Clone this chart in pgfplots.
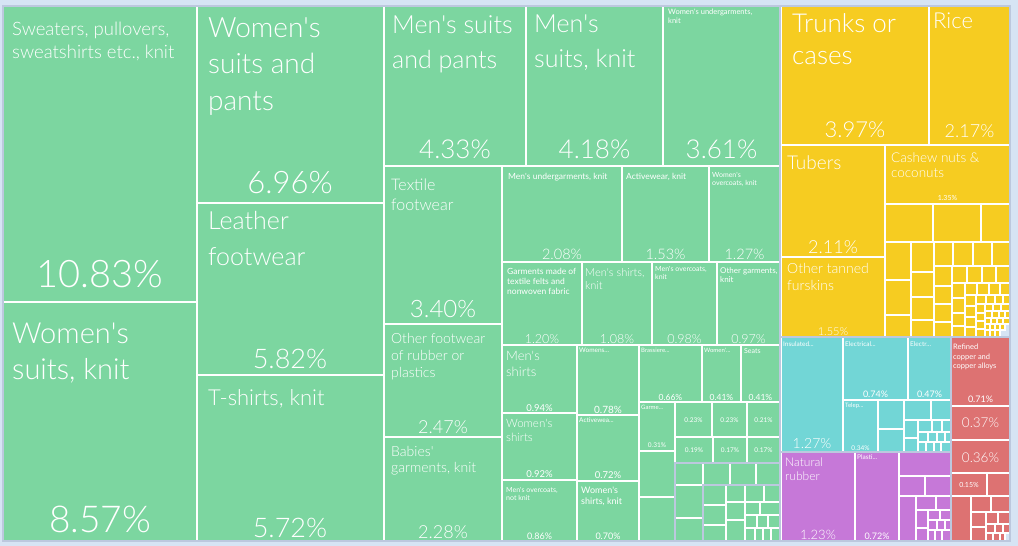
\documentclass[border=0pt]{standalone}
\usepackage{fontspec}
\setmainfont{Lato}[UprightFont={* Light}]
\newfontfamily\lreg{Lato}
\usepackage{pgfplots}
\pgfplotsset{compat=1.18}

\definecolor{bgc}{RGB}{214,228,244}
\definecolor{grn}{RGB}{124,214,160}
\definecolor{yel}{RGB}{246,204,33}
\definecolor{cya}{RGB}{114,214,214}
\definecolor{pur}{RGB}{198,120,216}
\definecolor{red}{RGB}{221,114,114}
\definecolor{edge}{RGB}{188,200,222}

% one treemap tile: x0 y0 x1 y1 colour (pixel units, y downwards)
\newcommand\R[5]{\addplot[fill=#5, draw=white, line width=1.1pt] coordinates {(#1,#2) (#3,#2) (#3,#4) (#1,#4)} -- cycle;}
% group outline
\newcommand\G[4]{\addplot[draw=edge, line width=1.3pt] coordinates {(#1,#2) (#3,#2) (#3,#4) (#1,#4)} -- cycle;}
% tile name: x y size leading text
\newcommand\Lb[5]{\node[anchor=north west, inner sep=0pt, align=left, text=white, font=\fontsize{#3}{#4}\selectfont] at (axis cs:#1,#2) {#5};}
% share: centre-x baseline-y size text
\newcommand\Pc[4]{\node[anchor=base, inner sep=0pt, text=white, font=\fontsize{#3}{#3}\selectfont] at (axis cs:#1,#2) {#4};}
% the same in the regular weight, for the small tiles
\newcommand\Ls[5]{\node[anchor=north west, inner sep=0pt, align=left, text=white, font=\lreg\fontsize{#3}{#4}\selectfont] at (axis cs:#1,#2) {#5};}
\newcommand\Ps[4]{\node[anchor=base, inner sep=0pt, text=white, font=\lreg\fontsize{#3}{#3}\selectfont] at (axis cs:#1,#2) {#4};}
\newcommand\q{\textquotesingle}

\begin{document}
\begin{tikzpicture}
\begin{axis}[scale only axis, width=1018pt, height=546pt,
  xmin=0, xmax=1018, ymin=0, ymax=546, y dir=reverse,
  hide axis, clip=false]

\addplot[fill=bgc, draw=none] coordinates {(0,0) (1018,0) (1018,546) (0,546)} -- cycle;

% ---- textiles and footwear (green)
\R{3}{6}{197}{302}{grn}
\R{3}{302}{197}{541}{grn}
\R{197}{6}{384}{203}{grn}
\R{197}{203}{384}{375}{grn}
\R{197}{375}{384}{541}{grn}
\R{384}{6}{526}{166}{grn}
\R{526}{6}{663}{166}{grn}
\R{663}{6}{780}{166}{grn}
\R{384}{166}{502}{324}{grn}
\R{384}{324}{502}{437}{grn}
\R{384}{437}{502}{541}{grn}
\R{502}{166}{622}{262}{grn}
\R{622}{166}{709}{262}{grn}
\R{709}{166}{780}{262}{grn}
\R{502}{262}{582}{345}{grn}
\R{582}{262}{652}{345}{grn}
\R{652}{262}{717}{345}{grn}
\R{717}{262}{780}{345}{grn}
\R{502}{345}{577}{413}{grn}
\R{502}{413}{577}{480}{grn}
\R{502}{480}{577}{541}{grn}
\R{577}{345}{639}{415}{grn}
\R{577}{415}{639}{481}{grn}
\R{577}{481}{639}{541}{grn}
\R{639}{345}{702}{402}{grn}
\R{702}{345}{741}{402}{grn}
\R{741}{345}{780}{402}{grn}
\R{639}{402}{675}{451}{grn}
\R{675}{402}{712}{437}{grn}
\R{712}{402}{747}{437}{grn}
\R{747}{402}{780}{437}{grn}
\R{675}{437}{713}{463}{grn}
\R{713}{437}{747}{463}{grn}
\R{747}{437}{780}{463}{grn}
\R{639}{451}{675}{497}{grn}
\R{639}{497}{675}{541}{grn}
\R{675}{463}{703}{485}{grn}
\R{703}{463}{730}{485}{grn}
\R{730}{463}{756}{485}{grn}
\R{756}{463}{780}{485}{grn}
\R{675}{485}{703}{518}{grn}
\R{675}{518}{703}{541}{grn}
\R{703}{485}{726}{505}{grn}
\R{703}{505}{726}{525}{grn}
\R{703}{525}{726}{541}{grn}
\R{726}{485}{745}{502}{grn}
\R{745}{485}{764}{502}{grn}
\R{764}{485}{780}{502}{grn}
\R{726}{502}{745}{520}{grn}
\R{726}{520}{745}{541}{grn}
\R{745}{502}{760}{515}{grn}
\R{760}{502}{780}{515}{grn}
\R{745}{515}{757}{528}{grn}
\R{757}{515}{768}{528}{grn}
\R{768}{515}{780}{528}{grn}
\R{745}{528}{755}{541}{grn}
\R{755}{528}{763}{541}{grn}
\R{763}{528}{771}{541}{grn}
\R{771}{528}{780}{541}{grn}

% ---- foodstuffs, hides (yellow)
\R{781}{6}{929}{145}{yel}
\R{929}{6}{1010}{145}{yel}
\R{781}{145}{885}{257}{yel}
\R{781}{257}{885}{337}{yel}
\R{885}{145}{1010}{204}{yel}
\R{885}{204}{933}{242}{yel}
\R{933}{204}{981}{242}{yel}
\R{981}{204}{1010}{242}{yel}
\R{885}{242}{911}{280}{yel}
\R{885}{280}{911}{315}{yel}
\R{885}{315}{911}{337}{yel}
\R{911}{242}{934}{272}{yel}
\R{911}{272}{934}{297}{yel}
\R{911}{297}{934}{320}{yel}
\R{911}{320}{934}{337}{yel}
\R{934}{242}{953}{266}{yel}
\R{953}{242}{973}{266}{yel}
\R{973}{242}{992}{266}{yel}
\R{992}{242}{1010}{266}{yel}
\R{934}{266}{952}{286}{yel}
\R{934}{286}{952}{304}{yel}
\R{934}{304}{952}{322}{yel}
\R{934}{322}{952}{337}{yel}
\R{952}{266}{967}{283}{yel}
\R{967}{266}{982}{283}{yel}
\R{982}{266}{996}{283}{yel}
\R{996}{266}{1010}{283}{yel}
\R{952}{283}{965}{298}{yel}
\R{952}{298}{965}{313}{yel}
\R{952}{313}{965}{326}{yel}
\R{952}{326}{965}{337}{yel}
\R{965}{283}{977}{295}{yel}
\R{977}{283}{989}{295}{yel}
\R{989}{283}{1000}{295}{yel}
\R{1000}{283}{1010}{295}{yel}
\R{965}{295}{976}{306}{yel}
\R{965}{306}{976}{317}{yel}
\R{965}{317}{976}{327}{yel}
\R{965}{327}{976}{337}{yel}
\R{976}{295}{986}{304}{yel}
\R{986}{295}{995}{304}{yel}
\R{995}{295}{1003}{304}{yel}
\R{1003}{295}{1010}{304}{yel}
\R{976}{304}{985}{313}{yel}
\R{976}{313}{985}{321}{yel}
\R{976}{321}{985}{329}{yel}
\R{976}{329}{985}{337}{yel}
\R{985}{304}{993}{311}{yel}
\R{993}{304}{1001}{311}{yel}
\R{1001}{304}{1010}{311}{yel}
\R{985}{311}{992}{318}{yel}
\R{992}{311}{999}{318}{yel}
\R{999}{311}{1005}{318}{yel}
\R{1005}{311}{1010}{318}{yel}
\R{985}{318}{991}{324}{yel}
\R{991}{318}{997}{324}{yel}
\R{997}{318}{1003}{324}{yel}
\R{1003}{318}{1010}{324}{yel}
\R{985}{324}{990}{330}{yel}
\R{990}{324}{995}{330}{yel}
\R{995}{324}{1000}{330}{yel}
\R{1000}{324}{1005}{330}{yel}
\R{985}{330}{990}{337}{yel}
\R{990}{330}{995}{337}{yel}
\R{995}{330}{1000}{337}{yel}

% ---- electronics (cyan)
\R{781}{337}{843}{452}{cya}
\R{843}{337}{908}{400}{cya}
\R{908}{337}{951}{400}{cya}
\R{843}{400}{878}{452}{cya}
\R{878}{400}{904}{429}{cya}
\R{878}{429}{904}{452}{cya}
\R{904}{400}{931}{420}{cya}
\R{931}{400}{951}{420}{cya}
\R{904}{420}{918}{438}{cya}
\R{904}{438}{918}{452}{cya}
\R{918}{420}{932}{432}{cya}
\R{932}{420}{942}{432}{cya}
\R{942}{420}{951}{432}{cya}
\R{918}{432}{928}{442}{cya}
\R{928}{432}{937}{442}{cya}
\R{937}{432}{945}{442}{cya}
\R{945}{432}{951}{442}{cya}
\R{918}{442}{926}{452}{cya}
\R{926}{442}{934}{452}{cya}
\R{934}{442}{941}{452}{cya}
\R{941}{442}{951}{452}{cya}

% ---- rubber and plastics (purple)
\R{781}{452}{855}{541}{pur}
\R{855}{452}{899}{541}{pur}
\R{899}{452}{951}{476}{pur}
\R{899}{476}{925}{496}{pur}
\R{925}{476}{951}{496}{pur}
\R{899}{496}{916}{541}{pur}
\R{916}{496}{936}{510}{pur}
\R{936}{496}{951}{510}{pur}
\R{916}{510}{928}{528}{pur}
\R{916}{528}{928}{541}{pur}
\R{928}{510}{940}{520}{pur}
\R{940}{510}{951}{520}{pur}
\R{928}{520}{937}{530}{pur}
\R{937}{520}{945}{530}{pur}
\R{945}{520}{951}{530}{pur}
\R{928}{530}{935}{541}{pur}
\R{935}{530}{942}{541}{pur}
\R{942}{530}{951}{541}{pur}

% ---- metals (red)
\R{951}{337}{1010}{406}{red}
\R{951}{406}{1010}{440}{red}
\R{951}{440}{1010}{473}{red}
\R{951}{473}{987}{496}{red}
\R{987}{473}{1010}{496}{red}
\R{951}{496}{971}{541}{red}
\R{971}{496}{991}{512}{red}
\R{991}{496}{1010}{512}{red}
\R{971}{512}{986}{527}{red}
\R{971}{527}{986}{541}{red}
\R{986}{512}{998}{524}{red}
\R{998}{512}{1010}{524}{red}
\R{986}{524}{995}{533}{red}
\R{995}{524}{1003}{533}{red}
\R{1003}{524}{1010}{533}{red}
\R{986}{533}{993}{541}{red}
\R{993}{533}{1000}{541}{red}
\R{1000}{533}{1005}{541}{red}

% group outlines
\G{3}{6}{780}{541}
\G{780}{6}{1010}{337}
\G{780}{337}{951}{452}
\G{780}{452}{951}{541}
\G{951}{337}{1010}{541}
\G{675}{463}{780}{541}
\G{703}{485}{780}{541}

% ---- labels
\Lb{12}{22}{18.5}{22.5}{Sweaters, pullovers,\\sweatshirts etc., knit}
\Pc{100}{287}{38}{10.83\%}
\Lb{12}{323}{29}{36}{Women\q s\\suits, knit}
\Pc{100}{532}{37}{8.57\%}
\Lb{208}{17}{28}{36.5}{Women\q s\\suits and\\pants}
\Pc{290}{193}{31}{6.96\%}
\Lb{208}{211}{25}{36}{Leather\\footwear}
\Pc{290}{368}{27}{5.82\%}
\Lb{208}{389}{22}{26}{T-shirts, knit}
\Pc{290}{537}{27}{5.72\%}
\Lb{392}{15}{25}{35}{Men\q s suits\\and pants}
\Pc{455}{158}{26}{4.33\%}
\Lb{534}{15}{25}{35}{Men\q s\\suits, knit}
\Pc{594.5}{158}{26}{4.18\%}
\Ls{668}{9}{7.5}{9}{Women\q s undergarments,\\knit}
\Pc{721.5}{158}{26}{3.61\%}
\Lb{391}{179}{16}{20}{Textile\\footwear}
\Pc{443}{317}{24}{3.40\%}
\Lb{391}{333}{14}{17}{Other footwear\\of rubber or\\plastics}
\Pc{443}{433}{18}{2.47\%}
\Lb{391}{446}{14}{16.5}{Babies\q\\garments, knit}
\Pc{443}{538}{18}{2.28\%}
\Ls{508}{173}{8.5}{10}{Men\q s undergarments, knit}
\Pc{562}{259}{14.5}{2.08\%}
\Ls{626}{173}{8.5}{10}{Activewear, knit}
\Pc{665.5}{259}{14.5}{1.53\%}
\Ls{712}{172}{7}{8.5}{Women\q s\\overcoats, knit}
\Pc{744.5}{259}{14.5}{1.27\%}
\Ls{507}{268}{8.5}{10}{Garments made of\\textile felts and\\nonwoven fabric}
\Pc{542}{343}{12.5}{1.20\%}
\Lb{585}{268}{11}{13}{Men\q s shirts,\\knit}
\Pc{617}{343}{12.5}{1.08\%}
\Ls{655}{266}{7}{8.5}{Men\q s overcoats,\\knit}
\Pc{684.5}{343}{12.5}{0.98\%}
\Ls{720}{267}{8}{9.5}{Other garments,\\knit}
\Pc{748.5}{343}{12.5}{0.97\%}
\Lb{506}{351}{13}{16}{Men\q s\\shirts}
\Ps{539.5}{411}{9.5}{0.94\%}
\Lb{506}{419}{11.5}{14}{Women\q s\\shirts}
\Ps{539.5}{477}{9.5}{0.92\%}
\Ls{506}{487}{7}{8.5}{Men\q s overcoats,\\not knit}
\Ps{539.5}{539}{9}{0.86\%}
\Ls{579}{348}{6.5}{8}{Womens...}
\Ps{608}{413}{10}{0.78\%}
\Ls{579}{418}{6.5}{8}{Activewea...}
\Ps{608}{478}{9.5}{0.72\%}
\Ls{581}{487}{9}{11}{Women\q s\\shirts, knit}
\Ps{608}{539}{9}{0.70\%}
\Ls{641}{348}{6}{7}{Brassiere...}
\Ps{670.5}{400}{8.5}{0.66\%}
\Ls{704}{348}{6}{7}{Women\q...}
\Ps{721.5}{400}{8.5}{0.41\%}
\Ls{744}{348}{7}{8}{Seats}
\Ps{760.5}{400}{8.5}{0.41\%}
\Ls{641}{405}{6}{7}{Garme...}
\Ps{657}{447}{6.5}{0.31\%}
\Ps{693.5}{422}{6.5}{0.23\%}
\Ps{729.5}{422}{6.5}{0.23\%}
\Ps{763.5}{422}{6.5}{0.21\%}
\Ps{694}{452}{6.5}{0.19\%}
\Ps{730}{452}{6.5}{0.17\%}
\Ps{763.5}{452}{6.5}{0.17\%}

\Lb{792}{13}{26}{32}{Trunks or\\cases}
\Pc{855}{137}{22}{3.97\%}
\Lb{933}{13}{22}{26}{Rice}
\Pc{969.5}{137}{18}{2.17\%}
\Lb{787}{155}{19}{22}{Tubers}
\Pc{833}{253}{18}{2.11\%}
\Lb{787}{263}{14}{17}{Other tanned\\furskins}
\Pc{833}{335}{11}{1.55\%}
\Lb{891}{152}{13.5}{15.5}{Cashew nuts \&\\coconuts}
\Ps{947.5}{200}{7}{1.35\%}

\Ls{783}{342}{6.5}{8}{Insulated...}
\Pc{812}{448}{14}{1.27\%}
\Ls{845}{342}{6.5}{8}{Electrical...}
\Ps{875.5}{397}{9}{0.74\%}
\Ls{910}{342}{6.5}{8}{Electr...}
\Ps{929.5}{397}{9}{0.47\%}
\Ls{845}{403}{6}{7}{Telep...}
\Ps{860.5}{450}{6.5}{0.34\%}

\Ls{953}{344}{7.5}{9.5}{Refined\\copper and\\copper alloys}
\Ps{980.5}{402}{9}{0.71\%}
\Pc{980.5}{427}{13.5}{0.37\%}
\Pc{980.5}{462}{13.5}{0.36\%}
\Ps{969}{487}{7}{0.15\%}

\Lb{785}{458}{12}{13.5}{Natural\\rubber}
\Pc{818}{539}{13}{1.23\%}
\Ls{857}{455}{6.5}{8}{Plasti...}
\Ps{877}{539}{9}{0.72\%}

\end{axis}
\end{tikzpicture}
\end{document}
